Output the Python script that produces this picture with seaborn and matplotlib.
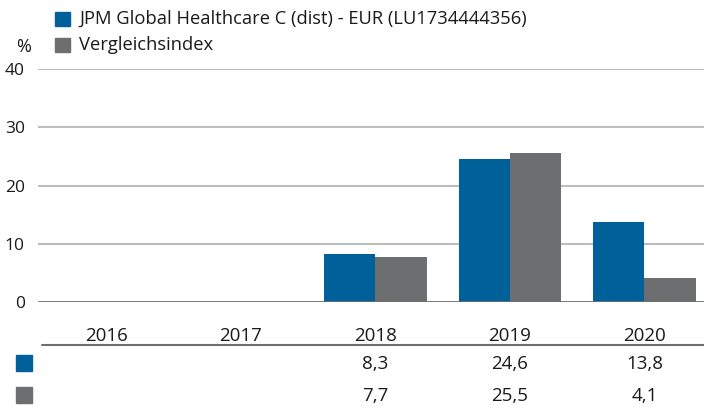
import numpy as np
import pandas as pd
import matplotlib
matplotlib.use("Agg")
import matplotlib.pyplot as plt
import matplotlib.transforms as mtransforms
from matplotlib.patches import Rectangle
from matplotlib.lines import Line2D
import seaborn as sns

# --- Data ---
years = ["2016", "2017", "2018", "2019", "2020"]
fund = [np.nan, np.nan, 8.3, 24.6, 13.8]
index = [np.nan, np.nan, 7.7, 25.5, 4.1]
series_names = ["JPM Global Healthcare C (dist) - EUR (LU1734444356)", "Vergleichsindex"]
colors = ["#00609A", "#6D6E70"]

df = pd.DataFrame({
    "year": years * 2,
    "value": fund + index,
    "series": [series_names[0]] * len(years) + [series_names[1]] * len(years),
})

sns.set_style("white")
plt.rcParams["font.family"] = ["Open Sans", "DejaVu Sans"]
TXT = "#1a1a1a"

fig = plt.figure(figsize=(7.04, 4.07), dpi=100)
W, H = 704, 407
ax = fig.add_axes([38 / W, 1 - 302 / H, 1 - 38 / W, (302 - 69) / H])

sns.barplot(data=df.dropna(), x="year", y="value", hue="series", order=years,
            hue_order=series_names, palette=colors, width=0.764, linewidth=0,
            saturation=1, ax=ax, legend=False)

ax.set_ylim(0, 40)
ax.set_xlim(-0.509, 4.443)
ax.set_yticks([0, 10, 20, 30, 40])
ax.tick_params(axis="y", length=0, pad=9.5, labelsize=12.5, labelcolor=TXT)
ax.tick_params(axis="x", length=0, pad=18, labelsize=13.5, labelcolor=TXT)
ax.set_xlabel("")
ax.set_ylabel("")
for s in ax.spines.values():
    s.set_visible(False)
ax.grid(False)
for v in [10, 20, 30, 40]:
    ax.axhline(v, color="#BDBDBD", lw=1.5, zorder=0)
ax.axhline(0, color="#6D6E70", lw=2, zorder=3)

# % label
fig.text(24 / W, 1 - 47 / H, "%", ha="center", va="center", fontsize=13, color=TXT)

# legend
for i, (name, c) in enumerate(zip(series_names, colors)):
    yc = 19 + 26 * i
    fig.patches.append(Rectangle((55 / W, 1 - (yc + 7) / H), 15 / W, 14 / H,
                                 transform=fig.transFigure, color=c))
    fig.text(79 / W, 1 - yc / H, name, ha="left", va="center", fontsize=13.2, color=TXT)

# table separator
fig.lines.append(Line2D([42 / W, 1], [1 - 345 / H] * 2, transform=fig.transFigure,
                        color="#6D6E70", lw=1.5))

# table rows
trans = mtransforms.blended_transform_factory(ax.transData, fig.transFigure)
for r, (vals, c) in enumerate(zip([fund, index], colors)):
    yc = 363 + 32 * r
    fig.patches.append(Rectangle((16 / W, 1 - (yc + 8) / H), 16 / W, 16 / H,
                                 transform=fig.transFigure, color=c))
    for i, v in enumerate(vals):
        if not np.isnan(v):
            ax.text(i, 1 - (yc + 1) / H, f"{v:.1f}".replace(".", ","), transform=trans,
                    ha="center", va="center", fontsize=13.5, color=TXT, clip_on=False)

fig.savefig("out.png", dpi=100)
